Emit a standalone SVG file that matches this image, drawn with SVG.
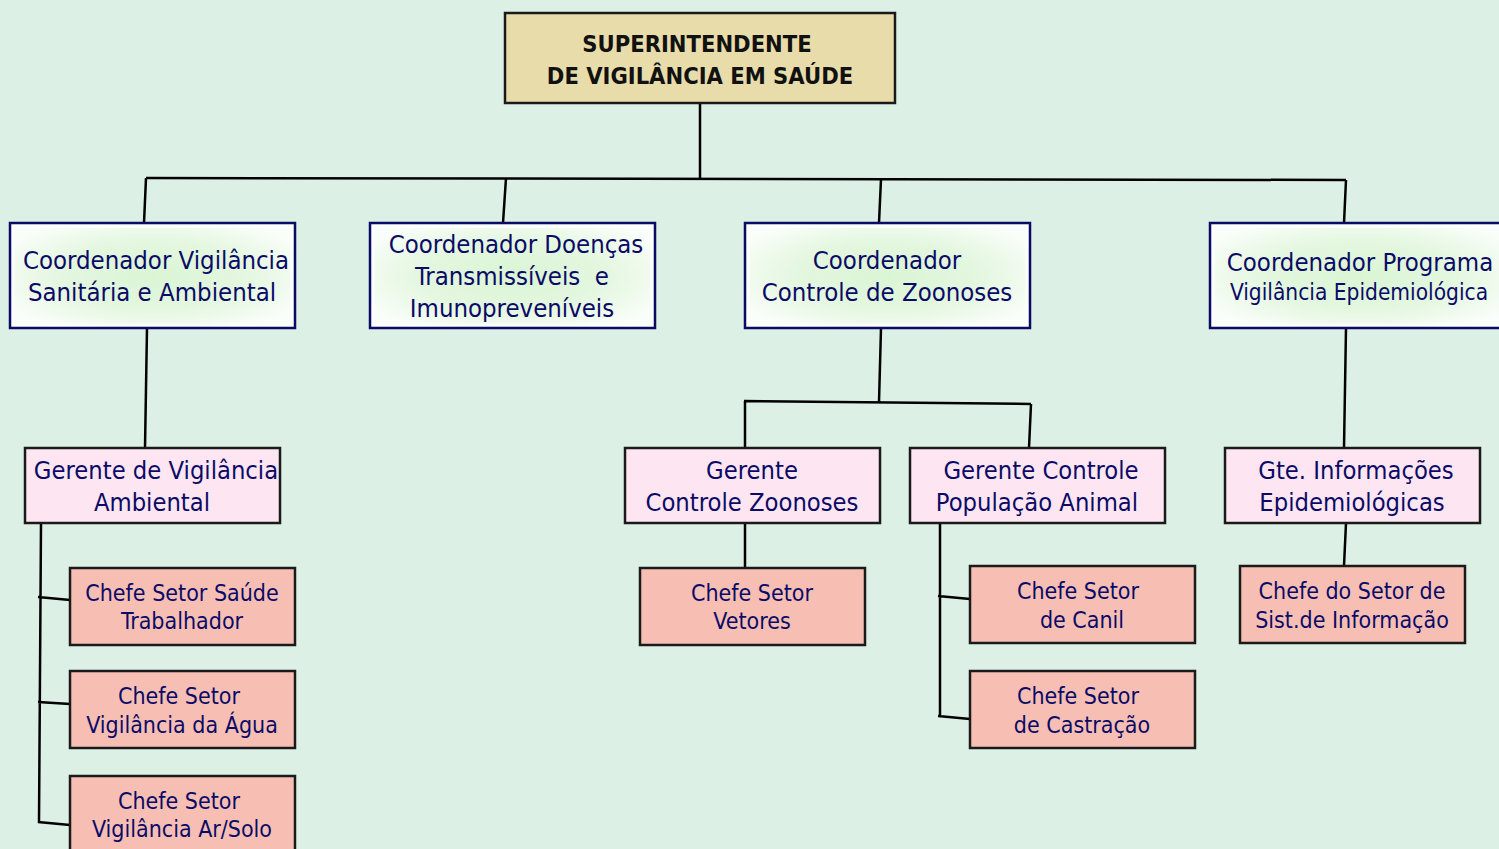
<svg xmlns="http://www.w3.org/2000/svg" width="1499" height="849" viewBox="0 0 1499 849">
<defs>
<radialGradient id="cg" cx="50%" cy="50%" r="60%">
<stop offset="0" stop-color="#DAF5D4"/>
<stop offset="0.55" stop-color="#E4F7E0"/>
<stop offset="1" stop-color="#FAFEFA"/>
</radialGradient>
<style>
text{font-family:"DejaVu Sans Condensed","DejaVu Sans",sans-serif;font-stretch:condensed;text-anchor:middle;fill:#0B0B66}
.top{fill:#E8DCAA;stroke:#1a1a1a;stroke-width:2.5}
.topt{fill:#111;font-weight:bold;font-size:23.5px}
.co{fill:url(#cg);stroke:#0B0B66;stroke-width:2.5}
.coi{fill:none;stroke:#fff;stroke-width:2}
.ct{font-size:25.5px}
.ge{fill:#FDE6F2;stroke:#1a1a1a;stroke-width:2.5}
.gt{font-size:25.3px}
.ch{fill:#F7BFB4;stroke:#1a1a1a;stroke-width:2.5}
.cht{font-size:23px}
.ln{fill:none;stroke:#000;stroke-width:2.5}
</style>
</defs>
<rect width="1499" height="849" fill="#DCF0E6"/>
<g id="connectors">
<path class="ln" d="M700 103 V178"/>
<path class="ln" d="M146 178 L1346 180"/>
<path class="ln" d="M146 178 L144 223 M506 178 L503 223 M881 179 L879 223 M1346 180 L1344 223"/>
<path class="ln" d="M147 328 L145 448"/>
<path class="ln" d="M41 523 L39 823 M38 597 L70 600 M38 702 L70 704 M38 822 L70 825"/>
<path class="ln" d="M881 328 L879 402 M744 401 L1031 404 M745 401 V448 M1031 404 L1029 448"/>
<path class="ln" d="M745 523 V568"/>
<path class="ln" d="M940 523 V716 M938 596 L970 599 M938 716 L970 719"/>
<path class="ln" d="M1346 328 L1344 448 M1346 523 L1344 566"/>
</g>
<g id="superintendente">
<rect class="top" x="505" y="13" width="390" height="90"/>
<text class="topt" x="697" y="52">SUPERINTENDENTE</text>
<text class="topt" x="700" y="84">DE VIGILÂNCIA EM SAÚDE</text>
</g>
<g id="coord-vsa">
<rect class="co" x="10" y="223" width="285" height="105"/>
<rect class="coi" x="13.5" y="226.5" width="278" height="98"/>
<text class="ct" x="156" y="269">Coordenador Vigilância</text>
<text class="ct" x="152" y="301">Sanitária e Ambiental</text>
</g>
<g id="coord-dti">
<rect class="co" x="370" y="223" width="285" height="105"/>
<rect class="coi" x="373.5" y="226.5" width="278" height="98"/>
<text class="ct" x="516" y="253">Coordenador Doenças</text>
<text class="ct" x="512" y="285" xml:space="preserve">Transmissíveis  e</text>
<text class="ct" x="512" y="317">Imunopreveníveis</text>
</g>
<g id="coord-cz">
<rect class="co" x="745" y="223" width="285" height="105"/>
<rect class="coi" x="748.5" y="226.5" width="278" height="98"/>
<text class="ct" x="887" y="269">Coordenador</text>
<text class="ct" x="887" y="301">Controle de Zoonoses</text>
</g>
<g id="coord-pve">
<rect class="co" x="1210" y="223" width="300" height="105"/>
<rect class="coi" x="1213.5" y="226.5" width="293" height="98"/>
<text class="ct" x="1360" y="271">Coordenador Programa</text>
<text x="1359" y="300" style="font-size:22.5px">Vigilância Epidemiológica</text>
</g>
<g id="ger-va">
<rect class="ge" x="25" y="448" width="255" height="75"/>
<text class="gt" x="156" y="479">Gerente de Vigilância</text>
<text class="gt" x="152" y="511">Ambiental</text>
</g>
<g id="ger-cz">
<rect class="ge" x="625" y="448" width="255" height="75"/>
<text class="gt" x="752" y="479">Gerente</text>
<text class="gt" x="752" y="511">Controle Zoonoses</text>
</g>
<g id="ger-cpa">
<rect class="ge" x="910" y="448" width="255" height="75"/>
<text class="gt" x="1041" y="479">Gerente Controle</text>
<text class="gt" x="1037" y="511">População Animal</text>
</g>
<g id="ger-ie">
<rect class="ge" x="1225" y="448" width="255" height="75"/>
<text class="gt" x="1356" y="479">Gte. Informações</text>
<text class="gt" x="1352" y="511">Epidemiológicas</text>
</g>
<g id="chefe-st">
<rect class="ch" x="70" y="568" width="225" height="77"/>
<text class="cht" x="182" y="601">Chefe Setor Saúde</text>
<text class="cht" x="182" y="629">Trabalhador</text>
</g>
<g id="chefe-va">
<rect class="ch" x="70" y="671" width="225" height="77"/>
<text class="cht" x="179" y="704">Chefe Setor</text>
<text class="cht" x="182" y="733">Vigilância da Água</text>
</g>
<g id="chefe-as">
<rect class="ch" x="70" y="776" width="225" height="80"/>
<text class="cht" x="179" y="809">Chefe Setor</text>
<text class="cht" x="182" y="837">Vigilância Ar/Solo</text>
</g>
<g id="chefe-vet">
<rect class="ch" x="640" y="568" width="225" height="77"/>
<text class="cht" x="752" y="601">Chefe Setor</text>
<text class="cht" x="752" y="629">Vetores</text>
</g>
<g id="chefe-canil">
<rect class="ch" x="970" y="566" width="225" height="77"/>
<text class="cht" x="1078" y="599">Chefe Setor</text>
<text class="cht" x="1082" y="628">de Canil</text>
</g>
<g id="chefe-castr">
<rect class="ch" x="970" y="671" width="225" height="77"/>
<text class="cht" x="1078" y="704">Chefe Setor</text>
<text class="cht" x="1082" y="733">de Castração</text>
</g>
<g id="chefe-si">
<rect class="ch" x="1240" y="566" width="225" height="77"/>
<text class="cht" x="1352" y="599">Chefe do Setor de</text>
<text class="cht" x="1352" y="628">Sist.de Informação</text>
</g>
</svg>
